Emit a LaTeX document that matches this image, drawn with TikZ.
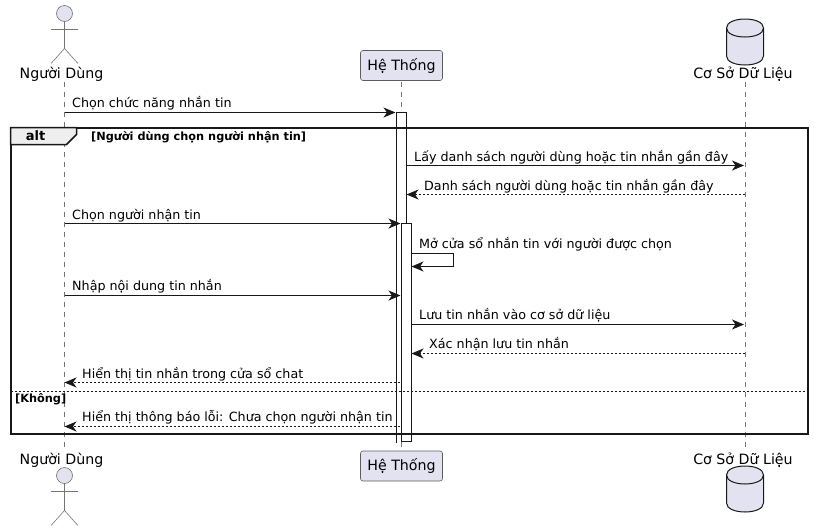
\documentclass[tikz,border=0pt]{standalone}
\usepackage{fontspec}
\setmainfont{DejaVu Sans}
\usetikzlibrary{arrows.meta,shapes.geometric}
\definecolor{partfill}{HTML}{E2E2F0}
\definecolor{partline}{HTML}{181818}
\definecolor{tabfill}{HTML}{EEEEEE}
\tikzset{
  lifeline/.style={draw=partline!60,line width=0.5pt,dash pattern=on 5pt off 5pt},
  msg/.style={draw=partline,line width=1pt,-{Stealth[length=12pt,width=10pt,inset=3.5pt]}},
  reply/.style={msg,dash pattern=on 2pt off 2pt},
  msgtext/.style={font=\fontsize{12.7}{15}\selectfont,anchor=base west,inner sep=0pt,text=black},
  parttext/.style={font=\fontsize{14.2}{16}\selectfont,anchor=base,inner sep=0pt,text=black},
  partbox/.style={draw=partline!70,fill=partfill,rounded corners=2.5pt,minimum width=82pt,minimum height=30pt,inner sep=0pt,line width=0.6pt,font=\fontsize{14.2}{16}\selectfont},
  bar/.style={draw=partline,fill=white,line width=1pt},
  guard/.style={font=\fontsize{11.3}{13}\selectfont\bfseries,anchor=base west,inner sep=0pt,text=black},
  stick/.style={draw=partline!60,line width=0.6pt},
}
\begin{document}
\begin{tikzpicture}[x=1pt,y=-1pt]
\useasboundingbox (0,0) rectangle (814,531);

% ===== Lifelines =====
\coordinate (userTop) at (64.5,82);
\coordinate (userEnd) at (64.5,450);
\coordinate (sysTop) at (401.5,82);
\coordinate (sysEnd) at (401.5,450);
\coordinate (dbTop) at (745,82);
\coordinate (dbEnd) at (745,450);
\foreach \p in {user,sys,db} {
    \draw[lifeline] (\p Top) -- (\p End);
}

% ===== Activation bars =====
\draw[bar] (396.5,443) -- (396.5,112.5) -- (406.5,112.5) -- (406.5,441);
\draw[bar] (401.5,223.5) rectangle (411.5,441);

% ===== Participants =====
\node[parttext] (userHead) at (61.5,78) {Người Dùng};
\node[parttext] (userFoot) at (61.5,464) {Người Dùng};
\node[parttext] (dbHead) at (743,78) {Cơ Sở Dữ Liệu};
\node[parttext] (dbFoot) at (743,464) {Cơ Sở Dữ Liệu};
\node[partbox] (sysHead) at (401.5,65.5) {Hệ Thống};
\node[partbox] (sysFoot) at (401.5,466) {Hệ Thống};

% ===== Actors =====
\foreach \y in {5,467} {
    \draw[stick,fill=partfill] (64.5,\y+8.5) circle (8pt);
    \draw[stick] (64.5,\y+16.5) -- ++(0,27) -- ++(-13.5,15);
    \draw[stick] (64.5,\y+43.5) -- ++(13.5,15);
    \draw[stick] (51,\y+24.5) -- ++(27,0);
}

% ===== Database =====
\foreach \y in {19,466} {
    \draw[partline,fill=partfill,line width=1pt] (726.5,\y+9) .. controls (726.5,\y-3) and (763.5,\y-3) .. (763.5,\y+9)
        -- (763.5,\y+37) .. controls (763.5,\y+49) and (726.5,\y+49) .. (726.5,\y+37) -- cycle;
    \draw[partline,line width=1pt] (726.5,\y+9) .. controls (726.5,\y+21) and (763.5,\y+21) .. (763.5,\y+9);
}

% ===== Messages =====
\node[msgtext] (msgA) at (72,107.5) {Chọn chức năng nhắn tin};
\draw[msg] (64.5,112.5) -- (395.5,112.5);

\node[msgtext] (msgB) at (414,161) {Lấy danh sách người dùng hoặc tin nhắn gần đây};
\draw[msg] (406.5,165.5) -- (744,165.5);

\node[msgtext] (msgC) at (424,190) {Danh sách người dùng hoặc tin nhắn gần đây};
\draw[reply] (745,194.5) -- (406.5,194.5);

\node[msgtext] (msgD) at (72,219) {Chọn người nhận tin};
\draw[msg] (64.5,223.5) -- (400.5,223.5);

\node[msgtext] (msgE) at (419,248) {Mở cửa sổ nhắn tin với người được chọn};
\draw[msg] (411.5,253.5) -- (453.5,253.5) -- (453.5,266.5) -- (411.5,266.5);

\node[msgtext] (msgF) at (72,290) {Nhập nội dung tin nhắn};
\draw[msg] (64.5,295.5) -- (400.5,295.5);

\node[msgtext] (msgG) at (419,319) {Lưu tin nhắn vào cơ sở dữ liệu};
\draw[msg] (411.5,324.5) -- (744,324.5);

\node[msgtext] (msgH) at (429,348) {Xác nhận lưu tin nhắn};
\draw[reply] (745,353.5) -- (411.5,353.5);

\node[msgtext] (msgI) at (82,378) {Hiển thị tin nhắn trong cửa sổ chat};
\draw[reply] (400,382.5) -- (64.5,382.5);

\node[msgtext] (msgJ) at (82,421) {Hiển thị thông báo lỗi: Chưa chọn người nhận tin};
\draw[reply] (400,426.5) -- (64.5,426.5);

% ===== Alt frame =====
\draw[partline,line width=2pt] (10.5,127.5) rectangle (808,434);
\draw[partline,line width=1.5pt,fill=tabfill] (10.5,127.5) -- (76.5,127.5) -- (76.5,134.5) -- (66.5,144.5) -- (10.5,144.5) -- cycle;
\draw[partline,line width=0.7pt,dash pattern=on 2pt off 2pt] (10.5,391.5) -- (808,391.5);
\node[font=\fontsize{13}{15}\selectfont\bfseries,anchor=base,inner sep=0pt] (altTag) at (35.5,140) {alt};
\node[guard] (guardA) at (91,140) {[Người dùng chọn người nhận tin]};
\node[guard] (guardB) at (15,402) {[Không]};

\end{tikzpicture}
\end{document}
